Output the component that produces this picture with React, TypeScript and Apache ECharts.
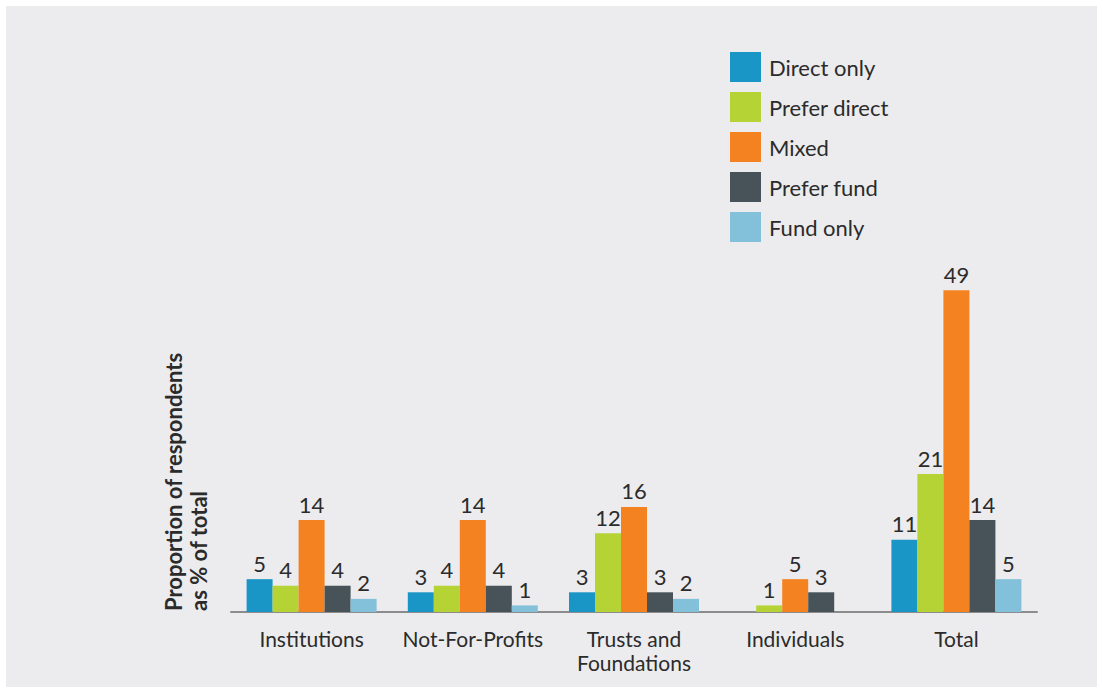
import React, { useEffect, useRef } from "react";
import * as echarts from "echarts";

const categories = ["Institutions", "Not-For-Profits", "Trusts and\nFoundations", "Individuals", "Total"];
const seriesNames = ["Direct only", "Prefer direct", "Mixed", "Prefer fund", "Fund only"];
const directOnly: (number | null)[] = [5, 3, 3, null, 11];
const preferDirect: (number | null)[] = [4, 4, 12, 1, 21];
const mixed: (number | null)[] = [14, 14, 16, 5, 49];
const preferFund: (number | null)[] = [4, 4, 3, 3, 14];
const fundOnly: (number | null)[] = [2, 1, 2, null, 5];
const colors = ["#1a96c6", "#b5d334", "#f58220", "#475259", "#83c1da"];
const yAxisTitle = "Proportion of respondents\nas % of total";

const FONT = "Lato, 'Noto Sans', sans-serif";
const TEXT = "#2b2b2b";

export default function App() {
  const ref = useRef<HTMLDivElement>(null);
  useEffect(() => {
    if (!ref.current) return;
    const chart = echarts.init(ref.current, undefined, { renderer: "svg" });
    const allData = [directOnly, preferDirect, mixed, preferFund, fundOnly];
    chart.setOption({
      animation: false,
      backgroundColor: "transparent",
      textStyle: { fontFamily: FONT },
      legend: {
        orient: "vertical",
        left: 725,
        top: 47,
        itemWidth: 31,
        itemHeight: 30,
        itemGap: 10,
        icon: "rect",
        data: seriesNames,
        textStyle: { fontSize: 22, color: TEXT, fontFamily: FONT, padding: [0, 0, 0, 3] },
      },
      grid: { left: 231, right: 66, top: 218, bottom: 81, containLabel: false },
      xAxis: {
        type: "category",
        data: categories,
        axisLine: { show: true, lineStyle: { color: "#8c8c8c", width: 2 } },
        axisTick: { show: false },
        axisLabel: {
          fontSize: 21,
          color: TEXT,
          fontFamily: FONT,
          margin: 14,
          lineHeight: 24,
          interval: 0,
        },
      },
      yAxis: {
        type: "value",
        min: 0,
        max: 60,
        show: false,
        splitLine: { show: false },
      },
      graphic: [
        {
          type: "text",
          x: 161,
          y: 611,
          rotation: Math.PI / 2,
          style: {
            text: yAxisTitle,
            fontSize: 22,
            fontWeight: "bold",
            fontFamily: FONT,
            fill: TEXT,
            align: "left",
            verticalAlign: "top",
            lineHeight: 25,
          },
        },
      ],
      series: seriesNames.map((name, i) => ({
        name,
        type: "bar",
        data: allData[i].map((v) => (v === null ? "-" : v)),
        barWidth: 26,
        barGap: "0%",
        itemStyle: { color: colors[i] },
        label: {
          show: true,
          position: "top",
          distance: 5,
          fontSize: 22,
          color: TEXT,
          fontFamily: FONT,
        },
      })),
    });
    return () => chart.dispose();
  }, []);
  return (
    <div
      style={{
        position: "fixed",
        left: 0,
        top: 0,
        width: 1103,
        height: 693,
        background: "#ececee",
        boxShadow: "inset 0 0 0 6px #ffffff",
      }}
    >
      <div ref={ref} style={{ width: 1103, height: 693 }} />
    </div>
  );
}
